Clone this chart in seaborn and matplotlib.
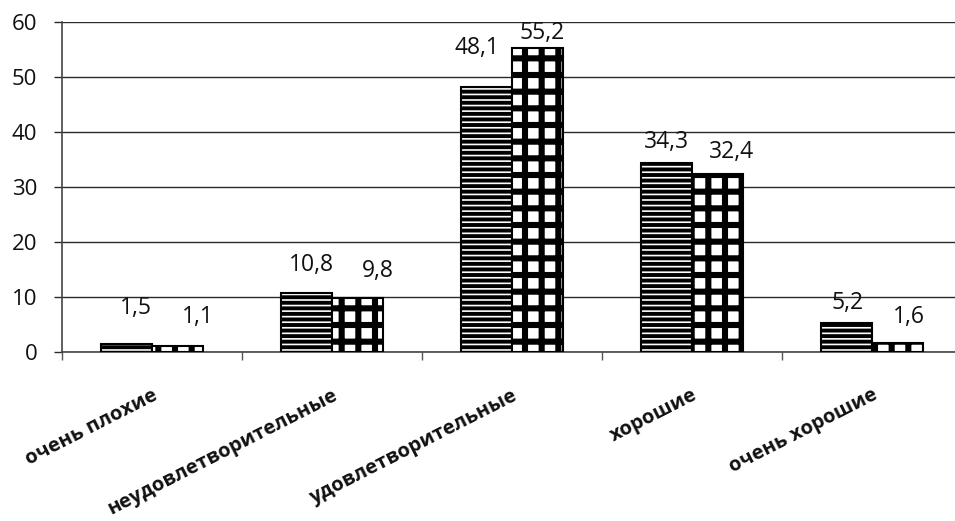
import matplotlib
matplotlib.use("Agg")
import matplotlib.pyplot as plt
from matplotlib.ticker import FixedLocator
import numpy as np
import pandas as pd
import seaborn as sns

# ---- data ----
categories = ["очень плохие", "неудовлетворительные", "удовлетворительные",
              "хорошие", "очень хорошие"]
series_names = ["Ряд 1", "Ряд 2"]
values_1 = [1.5, 10.8, 48.1, 34.3, 5.2]
values_2 = [1.1, 9.8, 55.2, 32.4, 1.6]
value_labels_1 = ["1,5", "10,8", "48,1", "34,3", "5,2"]
value_labels_2 = ["1,1", "9,8", "55,2", "32,4", "1,6"]
y_ticks = [0, 10, 20, 30, 40, 50, 60]

# label placement offsets (pixels, right / up from top-centre of each bar)
label_offsets_1 = [(9, 36), (5, 28), (-10, 39), (0, 21), (1, 20)]
label_offsets_2 = [(20, 29), (20, 27), (5, 15), (14, 22), (11, 26)]

sns.set_style("white")
plt.rcParams["font.family"] = ["Open Sans", "DejaVu Sans"]
plt.rcParams["hatch.linewidth"] = 2.8
plt.rcParams["hatch.color"] = "black"

df = pd.DataFrame({
    "cat": categories * 2,
    "val": values_1 + values_2,
    "series": [series_names[0]] * len(categories) + [series_names[1]] * len(categories),
})

W, H = 955, 521
fig = plt.figure(figsize=(W / 100, H / 100), dpi=100)
ax = fig.add_axes([62 / W, 169 / H, 900 / W, 330 / H])

sns.barplot(data=df, x="cat", y="val", hue="series", order=categories,
            hue_order=series_names, palette=["white", "white"], saturation=1,
            width=102 / 180, gap=0, errorbar=None, legend=False,
            edgecolor="black", linewidth=1.5, ax=ax, zorder=3)

hatches = ["---", "+"]
hatch_lw = [2.8, 4.4]
labels_all = [value_labels_1, value_labels_2]
offsets_all = [label_offsets_1, label_offsets_2]
for ci, cont in enumerate(ax.containers[:2]):
    for bi, p in enumerate(cont.patches):
        p.set_hatch(hatches[ci])
        p.set_facecolor("white")
        p.set_edgecolor("black")
        if hasattr(p, "set_hatch_linewidth"):
            p.set_hatch_linewidth(hatch_lw[ci])
        xc = p.get_x() + p.get_width() / 2
        top = p.get_height()
        dx, dy = offsets_all[ci][bi]
        ax.annotate(labels_all[ci][bi], (xc, top), xytext=(dx, dy),
                    textcoords="offset pixels", ha="center", va="center",
                    fontsize=16.5, color="#111111", zorder=5)

ax.set_xlim(-0.5, 4.5)
ax.set_ylim(0, 60)
ax.set_yticks(y_ticks)
ax.set_yticklabels([str(t) for t in y_ticks])
ax.yaxis.grid(True, color="#2a2a2a", linewidth=1.0, zorder=0)
ax.set_axisbelow(True)
ax.tick_params(axis="y", length=5.8, width=1.0, color="#2a2a2a", pad=12,
               labelsize=16, labelcolor="#111111", left=True, direction="out")

ax.set_xticks(range(len(categories)))
ax.set_xticklabels(categories, rotation=27, ha="right", va="top",
                   rotation_mode="anchor", fontweight="bold", fontsize=14.5)
ax.tick_params(axis="x", which="major", length=0, pad=24, labelcolor="#111111")
ax.xaxis.set_minor_locator(FixedLocator(np.arange(-0.5, 5, 1.0)))
ax.tick_params(axis="x", which="minor", length=5.8, width=1.0, color="#555555",
               direction="out", bottom=True)

for s in ["top", "right"]:
    ax.spines[s].set_visible(False)
for s in ["left", "bottom"]:
    ax.spines[s].set_color("#444444")
    ax.spines[s].set_linewidth(1.2)

ax.set_xlabel("")
ax.set_ylabel("")

fig.savefig("out.png", dpi=100)
